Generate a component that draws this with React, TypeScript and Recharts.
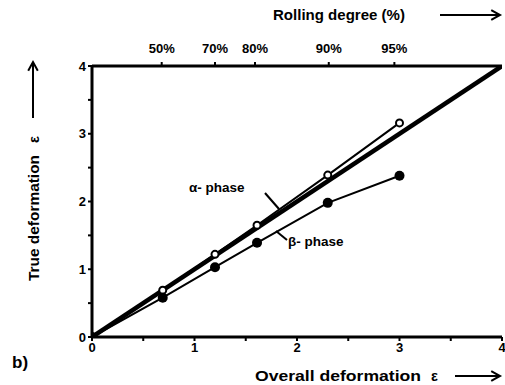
import React from 'react';
import {
  ComposedChart,
  Line,
  XAxis,
  YAxis,
} from 'recharts';

// overall deformation at each rolling step
const strain = [0, 0.69, 1.2, 1.61, 2.3, 3.0];
const alphaTrue = [0, 0.69, 1.22, 1.65, 2.39, 3.16];
const betaTrue = [0, 0.58, 1.03, 1.39, 1.98, 2.38];

// ideal case: true = overall
const identity = [0, 4];

const axisTicks = [0, 0.5, 1, 1.5, 2, 2.5, 3, 3.5, 4];
const rollingPos = [0.68, 1.2, 1.59, 2.31, 2.95];
const rollingLabels = ['50%', '70%', '80%', '90%', '95%'];

const alphaData = strain.map((x, i) => ({ x, alpha: alphaTrue[i] }));
const betaData = strain.map((x, i) => ({ x, beta: betaTrue[i] }));
const identityData = identity.map((v) => ({ x: v, ideal: v }));

const FONT = '"Liberation Sans", Arial, sans-serif';
const W = 505;
const H = 385;

const tickStyle = { fontSize: 13, fontWeight: 700, fill: '#000', fontFamily: FONT };
const topTickStyle = { ...tickStyle, dy: -7 };
const axisLine = { stroke: '#000', strokeWidth: 3 };
const tickLine = { stroke: '#000', strokeWidth: 2 };

const intLabel = (v: number) => (Number.isInteger(v) ? String(v) : '');
const rollingLabel = (v: number) => rollingLabels[rollingPos.indexOf(v)] ?? '';

function OpenDot(props: any) {
  const { cx, cy, index } = props;
  if (index === 0) return <g key={`a${index}`} />;
  return <circle key={`a${index}`} cx={cx} cy={cy} r={3.5} fill="#fff" stroke="#000" strokeWidth={2} />;
}

function Arrow({ x1, y1, x2, y2 }: { x1: number; y1: number; x2: number; y2: number }) {
  const ang = Math.atan2(y2 - y1, x2 - x1);
  const len = 10;
  const a1 = ang + Math.PI - 0.5;
  const a2 = ang + Math.PI + 0.5;
  return (
    <g stroke="#000" strokeWidth={2} fill="none">
      <line x1={x1} y1={y1} x2={x2} y2={y2} />
      <polyline
        points={`${x2 + len * Math.cos(a1)},${y2 + len * Math.sin(a1)} ${x2},${y2} ${x2 + len * Math.cos(a2)},${y2 + len * Math.sin(a2)}`}
      />
    </g>
  );
}

export default function App() {
  return (
    <div style={{ position: 'fixed', left: 0, top: 0, width: W, height: H, background: '#fff' }}>
      <ComposedChart
        width={W}
        height={H}
        margin={{ top: 36, right: 3, bottom: 18, left: 62 }}
      >
        <XAxis
          xAxisId="bottom"
          dataKey="x"
          type="number"
          domain={[0, 4]}
          ticks={axisTicks}
          tickFormatter={intLabel}
          interval={0}
          axisLine={axisLine}
          tickLine={tickLine}
          tickSize={4}
          tick={tickStyle}
          height={30}
          allowDataOverflow
        />
        <XAxis
          xAxisId="top"
          orientation="top"
          dataKey="x"
          type="number"
          domain={[0, 4]}
          ticks={rollingPos}
          tickFormatter={rollingLabel}
          interval={0}
          axisLine={axisLine}
          tickLine={tickLine}
          tickSize={4}
          tick={topTickStyle}
          height={30}
          allowDataOverflow
        />
        <YAxis
          yAxisId="left"
          type="number"
          domain={[0, 4]}
          ticks={axisTicks}
          tickFormatter={intLabel}
          interval={0}
          axisLine={axisLine}
          tickLine={tickLine}
          tickSize={4}
          tick={tickStyle}
          width={30}
          allowDataOverflow
        />
        <YAxis
          yAxisId="right"
          orientation="right"
          type="number"
          domain={[0, 4]}
          axisLine={axisLine}
          tick={false}
          tickLine={false}
          width={0}
        />
        <Line
          data={identityData}
          xAxisId="bottom"
          yAxisId="left"
          dataKey="ideal"
          stroke="#000"
          strokeWidth={4.5}
          dot={false}
          isAnimationActive={false}
        />
        <Line
          data={alphaData}
          xAxisId="bottom"
          yAxisId="left"
          dataKey="alpha"
          stroke="#000"
          strokeWidth={2}
          dot={<OpenDot />}
          isAnimationActive={false}
        />
        <Line
          data={betaData}
          xAxisId="bottom"
          yAxisId="left"
          dataKey="beta"
          stroke="#000"
          strokeWidth={2}
          dot={{ r: 5, fill: '#000', stroke: '#000', strokeWidth: 0 }}
          isAnimationActive={false}
        />
      </ComposedChart>

      <svg
        width={W}
        height={H}
        style={{ position: 'absolute', left: 0, top: 0, pointerEvents: 'none' }}
        fontFamily={FONT}
        fontWeight={700}
      >
        {/* axis titles */}
        <text x={273} y={20} fontSize={14.5} textLength={132} lengthAdjust="spacingAndGlyphs">
          Rolling degree (%)
        </text>
        <Arrow x1={440} y1={15} x2={500} y2={15} />

        <text x={255} y={381} fontSize={14.5} textLength={166} lengthAdjust="spacingAndGlyphs">
          Overall deformation
        </text>
        <text x={431} y={381} fontSize={14.5}>ε</text>
        <Arrow x1={455} y1={376} x2={500} y2={376} />

        <g transform="rotate(-90 39 207)">
          <text x={39 - 74} y={207} fontSize={14.5} textLength={126} lengthAdjust="spacingAndGlyphs">
            True deformation
          </text>
          <text x={39 + 64} y={207} fontSize={14.5}>ε</text>
        </g>
        <Arrow x1={33} y1={118} x2={33} y2={62} />

        <text x={12} y={368} fontSize={17}>b)</text>

        {/* series annotations */}
        <text x={189} y={192} fontSize={13.5}>α- phase</text>
        <line x1={265} y1={193} x2={279} y2={209} stroke="#000" strokeWidth={2} />
        <text x={288} y={246} fontSize={13.5}>β- phase</text>
        <line x1={276} y1={231} x2={287} y2={240} stroke="#000" strokeWidth={2} />
      </svg>
    </div>
  );
}
